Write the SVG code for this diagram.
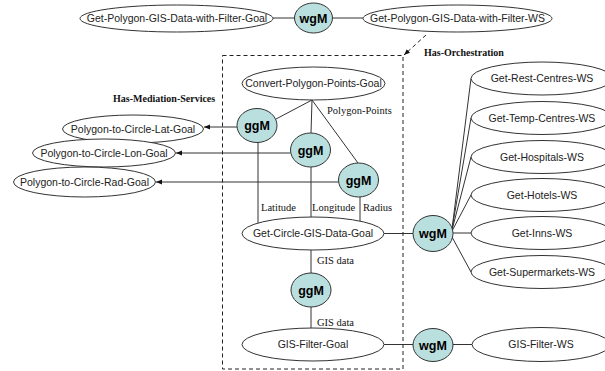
<svg xmlns="http://www.w3.org/2000/svg" width="605" height="371" viewBox="0 0 605 371">
<defs>
<style>
.el{fill:#fff;stroke:#333;stroke-width:1}
.med{fill:#b9dfdf;stroke:#333;stroke-width:1}
.lbl{font-family:"Liberation Sans",Arial,sans-serif;font-size:10.5px;fill:#222;text-anchor:middle}
.mt{font-family:"Liberation Sans",Arial,sans-serif;font-size:12.5px;font-weight:bold;fill:#000;text-anchor:middle}
.el-t{font-family:"Liberation Serif","Times New Roman",serif;font-size:10.5px;fill:#111}
.bt{font-family:"Liberation Serif","Times New Roman",serif;font-size:10px;font-weight:bold;fill:#111}
.ln{stroke:#333;stroke-width:1;fill:none}
.dash{stroke:#222;stroke-width:1;fill:none;stroke-dasharray:4,3}
</style>
<marker id="ah" viewBox="0 0 10 10" refX="10" refY="5" markerWidth="6" markerHeight="6" orient="auto" markerUnits="userSpaceOnUse">
<path d="M0,1 L10,5 L0,9 z" fill="#111"/>
</marker>
</defs>
<rect width="605" height="371" fill="#fff"/>

<g id="connectors">
<line class="ln" x1="273" y1="18" x2="294.5" y2="18"/>
<line class="ln" x1="332.5" y1="18" x2="363" y2="18"/>
<line class="dash" x1="426" y1="35" x2="404" y2="55" marker-end="url(#ah)"/>
<line class="ln" x1="312" y1="100" x2="276" y2="119"/>
<line class="ln" x1="312" y1="100" x2="311" y2="133"/>
<line class="ln" x1="312" y1="100" x2="358" y2="163"/>
<line class="ln" x1="237" y1="127" x2="204" y2="127" marker-end="url(#ah)"/>
<line class="ln" x1="290.5" y1="153" x2="176" y2="153" marker-end="url(#ah)"/>
<line class="ln" x1="338.5" y1="182" x2="156" y2="182" marker-end="url(#ah)"/>
<line class="ln" x1="258" y1="142" x2="258" y2="223"/>
<line class="ln" x1="311" y1="167" x2="311" y2="217"/>
<line class="ln" x1="360" y1="197" x2="360" y2="221"/>
<line class="ln" x1="384" y1="233.5" x2="413" y2="233.5"/>
<line class="ln" x1="311" y1="250" x2="311" y2="273"/>
<line class="ln" x1="311" y1="307" x2="311" y2="328"/>
<line class="ln" x1="384" y1="344.5" x2="413" y2="344.5"/>
<line class="ln" x1="453" y1="344.5" x2="472" y2="344.5"/>
<line class="ln" x1="452" y1="229" x2="471" y2="78.5"/>
<line class="ln" x1="452" y1="229" x2="471" y2="118"/>
<line class="ln" x1="452" y1="230" x2="471" y2="157"/>
<line class="ln" x1="452" y1="231" x2="471" y2="195"/>
<line class="ln" x1="453" y1="233" x2="471" y2="233"/>
<line class="ln" x1="452" y1="237" x2="471" y2="272"/>
</g>

<g id="orchestration-box">
<rect class="dash" x="222.5" y="55.5" width="180.5" height="313.5"/>
</g>

<g id="labels">
<text class="bt" x="424" y="55.5">Has-Orchestration</text>
<text class="bt" x="113" y="102">Has-Mediation-Services</text>
<text class="el-t" x="327" y="113.5">Polygon-Points</text>
<text class="el-t" x="261" y="210.5">Latitude</text>
<text class="el-t" x="312" y="210.5">Longitude</text>
<text class="el-t" x="363" y="210.5">Radius</text>
<text class="el-t" x="317" y="263.5">GIS data</text>
<text class="el-t" x="317" y="325.5">GIS data</text>
</g>

<g id="n-goal-top"><ellipse class="el" cx="176.5" cy="18.5" rx="96.5" ry="13.5"/><text class="lbl" x="177" y="22.3">Get-Polygon-GIS-Data-with-Filter-Goal</text></g>
<g id="n-wgm-top"><ellipse class="med" cx="313.5" cy="18" rx="19" ry="15"/><text class="mt" x="313.5" y="22.5">wgM</text></g>
<g id="n-ws-top"><ellipse class="el" cx="457.5" cy="18.5" rx="94.5" ry="13.5"/><text class="lbl" x="457.5" y="22.3">Get-Polygon-GIS-Data-with-Filter-WS</text></g>

<g id="n-convert"><ellipse class="el" cx="313.5" cy="83.5" rx="71.5" ry="16.5"/><text class="lbl" x="313.5" y="87.3">Convert-Polygon-Points-Goal</text></g>
<g id="n-lat"><ellipse class="el" cx="133" cy="129" rx="70.5" ry="14"/><text class="lbl" x="133" y="132.8">Polygon-to-Circle-Lat-Goal</text></g>
<g id="n-lon"><ellipse class="el" cx="104" cy="153" rx="71.5" ry="14"/><text class="lbl" x="104" y="156.8">Polygon-to-Circle-Lon-Goal</text></g>
<g id="n-rad"><ellipse class="el" cx="84.5" cy="182" rx="71" ry="15"/><text class="lbl" x="84.5" y="185.8">Polygon-to-Circle-Rad-Goal</text></g>

<g id="n-ggm1"><ellipse class="med" cx="257" cy="125.5" rx="20" ry="17"/><text class="mt" x="257" y="130">ggM</text></g>
<g id="n-ggm2"><ellipse class="med" cx="310.5" cy="150" rx="20" ry="17"/><text class="mt" x="310.5" y="154.5">ggM</text></g>
<g id="n-ggm3"><ellipse class="med" cx="358.5" cy="180" rx="20" ry="17"/><text class="mt" x="358.5" y="184.5">ggM</text></g>

<g id="n-circle"><ellipse class="el" cx="313" cy="233.5" rx="71" ry="16.5"/><text class="lbl" x="313" y="237.3">Get-Circle-GIS-Data-Goal</text></g>
<g id="n-wgm-mid"><ellipse class="med" cx="433" cy="233.5" rx="20" ry="18"/><text class="mt" x="433" y="238">wgM</text></g>
<g id="n-ggm4"><ellipse class="med" cx="311" cy="290" rx="20" ry="17"/><text class="mt" x="311" y="294.5">ggM</text></g>
<g id="n-filter"><ellipse class="el" cx="313" cy="344.5" rx="71" ry="16.5"/><text class="lbl" x="313" y="348.3">GIS-Filter-Goal</text></g>
<g id="n-wgm-bot"><ellipse class="med" cx="433" cy="345" rx="20" ry="16.5"/><text class="mt" x="433" y="349.5">wgM</text></g>
<g id="n-filter-ws"><ellipse class="el" cx="541" cy="344.5" rx="69" ry="17"/><text class="lbl" x="541" y="348.3">GIS-Filter-WS</text></g>

<g id="n-rest"><ellipse class="el" cx="542" cy="78.5" rx="71" ry="16.5"/><text class="lbl" x="542" y="82.3">Get-Rest-Centres-WS</text></g>
<g id="n-temp"><ellipse class="el" cx="542" cy="118" rx="71" ry="16.5"/><text class="lbl" x="542" y="121.8">Get-Temp-Centres-WS</text></g>
<g id="n-hosp"><ellipse class="el" cx="542" cy="157" rx="71" ry="16.5"/><text class="lbl" x="542" y="160.8">Get-Hospitals-WS</text></g>
<g id="n-hotels"><ellipse class="el" cx="542" cy="195" rx="71" ry="16.5"/><text class="lbl" x="542" y="198.8">Get-Hotels-WS</text></g>
<g id="n-inns"><ellipse class="el" cx="542" cy="233" rx="71" ry="16.5"/><text class="lbl" x="542" y="236.8">Get-Inns-WS</text></g>
<g id="n-super"><ellipse class="el" cx="542" cy="272" rx="71" ry="16.5"/><text class="lbl" x="542" y="275.8">Get-Supermarkets-WS</text></g>
</svg>
